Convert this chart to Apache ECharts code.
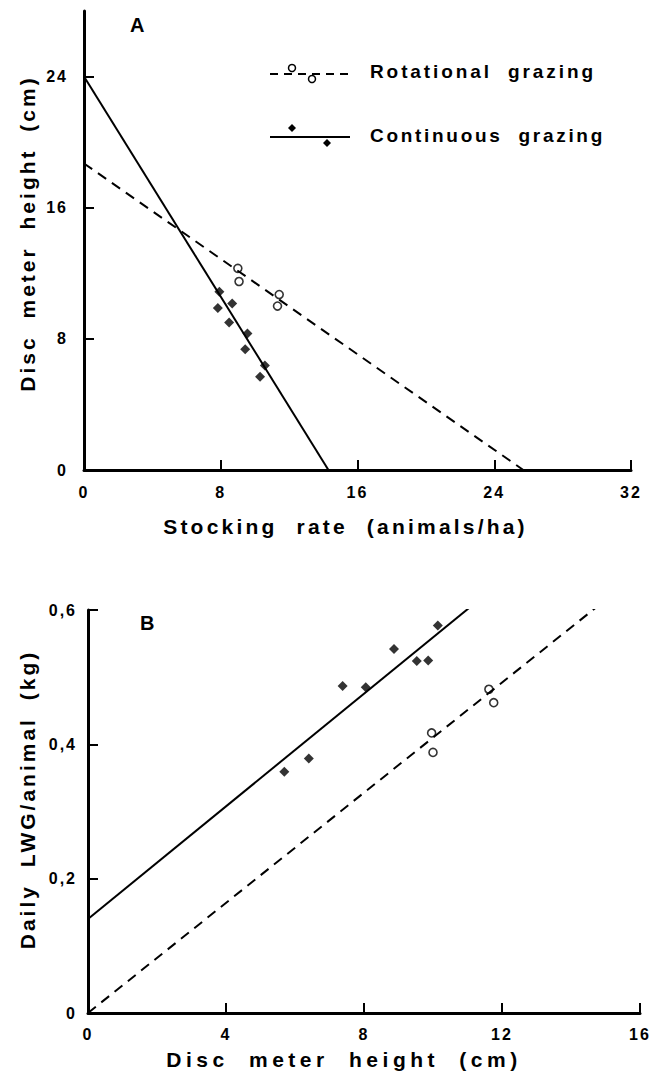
<!DOCTYPE html>
<html><head><meta charset="utf-8">
<script src="https://cdn.jsdelivr.net/npm/echarts@6/dist/echarts.min.js"></script>
<style>
html,body{margin:0;padding:0;background:#fff;}
#c{width:668px;height:1075px;}
</style></head><body><div id="c"></div>
<script>
// ---- Panel A: disc meter height vs stocking rate ----
const aRotX = [9.0, 9.07, 11.42, 11.32];
const aRotY = [12.3, 11.5, 10.7, 10.0];
const aContX = [7.92, 7.83, 8.67, 8.49, 9.56, 9.43, 10.58, 10.30];
const aContY = [10.87, 9.88, 10.16, 9.0, 8.33, 7.36, 6.38, 5.69];
const aRotLineX = [0, 25.7];
const aRotLineY = [18.7, 0];
const aContLineX = [0, 14.3];
const aContLineY = [24, 0];
const aXTicks = [0, 8, 16, 24, 32];
const aYTicks = [0, 8, 16, 24];

// ---- Panel B: daily LWG vs disc meter height ----
const bContX = [5.69, 6.40, 7.38, 8.05, 8.87, 9.53, 9.86, 10.14];
const bContY = [0.359, 0.379, 0.487, 0.485, 0.542, 0.524, 0.525, 0.577];
const bRotX = [9.96, 10.0, 11.62, 11.76];
const bRotY = [0.417, 0.388, 0.482, 0.462];
const bContLineX = [0, 11.45];
const bContLineY = [0.14, 0.62];
const bRotLineX = [0, 15.0];
const bRotLineY = [0, 0.615];
const bXTicks = [0, 4, 8, 12, 16];
const bYTicks = [0, 0.2, 0.4, 0.6];

const seriesNames = ['Rotational grazing', 'Continuous grazing'];
const panelLabels = ['A', 'B'];
const axisNames = {
  aX: 'Stocking rate (animals/ha)',
  aY: 'Disc meter height (cm)',
  bX: 'Disc meter height (cm)',
  bY: 'Daily LWG/animal (kg)'
};

const zip = (xs, ys) => xs.map((x, i) => [x, ys[i]]);
const FONT = '"Liberation Sans", Arial, Helvetica, sans-serif';
const black = '#000';
const NAME_SIZE = 21;

function tick(values) {
  return { show: true, inside: true, length: 10, lineStyle: { color: black, width: 2 }, customValues: values };
}
function label(values, margin, fmt) {
  const l = { color: black, fontWeight: 'bold', fontSize: 16, fontFamily: FONT, margin: margin, customValues: values };
  if (fmt) l.formatter = fmt;
  return l;
}
function axisBase(extra) {
  return Object.assign({
    type: 'value',
    axisLine: { show: true, onZero: false, lineStyle: { color: black, width: 3 } },
    splitLine: { show: false },
    nameLocation: 'middle'
  }, extra);
}
function nameStyle(padding) {
  return { color: black, fontWeight: 'bold', fontSize: NAME_SIZE, fontFamily: FONT, padding: padding };
}

const commaFmt = v => String(Math.round(v * 10) / 10).replace('.', ',');

const chart = echarts.init(document.getElementById('c'), null, { renderer: 'svg' });

const option = {
  backgroundColor: '#fff',
  animation: false,
  grid: [
    { left: 84, top: 11, width: 547, height: 459 },
    { left: 88, top: 610, width: 552, height: 403 }
  ],
  xAxis: [
    axisBase({ gridIndex: 0, min: 0, max: 32, interval: 8,
      name: axisNames.aX, nameGap: 46, nameTextStyle: nameStyle([0, 24, 0, 0]),
      axisLabel: label(aXTicks, 14), axisTick: tick(aXTicks.slice(1)) }),
    axisBase({ gridIndex: 1, min: 0, max: 16, interval: 4,
      name: axisNames.bX, nameGap: 36, nameTextStyle: nameStyle([0, 40, 0, 0]),
      axisLabel: label(bXTicks, 13), axisTick: tick(bXTicks.slice(1)) })
  ],
  yAxis: [
    axisBase({ gridIndex: 0, min: 0, max: 28, interval: 4,
      name: axisNames.aY, nameRotate: 90, nameGap: 46, nameTextStyle: nameStyle([0, 0, 0, 14]),
      axisLabel: label(aYTicks, 16), axisTick: tick(aYTicks.slice(1)) }),
    axisBase({ gridIndex: 1, min: 0, max: 0.6, interval: 0.2,
      name: axisNames.bY, nameRotate: 90, nameGap: 50, nameTextStyle: nameStyle([0, 0, 0, 24]),
      axisLabel: label(bYTicks, 11, commaFmt), axisTick: tick(bYTicks.slice(1)) })
  ],
  series: [
    { name: seriesNames[0], type: 'line', xAxisIndex: 0, yAxisIndex: 0, data: zip(aRotLineX, aRotLineY),
      symbol: 'none', lineStyle: { color: black, width: 2, type: [10, 7] }, silent: true },
    { name: seriesNames[1], type: 'line', xAxisIndex: 0, yAxisIndex: 0, data: zip(aContLineX, aContLineY),
      symbol: 'none', lineStyle: { color: black, width: 2 }, silent: true },
    { name: seriesNames[0], type: 'scatter', xAxisIndex: 0, yAxisIndex: 0, data: zip(aRotX, aRotY),
      symbol: 'circle', symbolSize: 8, itemStyle: { color: '#fff', borderColor: black, borderWidth: 1.6 } },
    { name: seriesNames[1], type: 'scatter', xAxisIndex: 0, yAxisIndex: 0, data: zip(aContX, aContY),
      symbol: 'diamond', symbolSize: [10, 10], itemStyle: { color: black } },

    { name: seriesNames[0], type: 'line', xAxisIndex: 1, yAxisIndex: 1, data: zip(bRotLineX, bRotLineY),
      symbol: 'none', lineStyle: { color: black, width: 2, type: [10, 7] }, silent: true },
    { name: seriesNames[1], type: 'line', xAxisIndex: 1, yAxisIndex: 1, data: zip(bContLineX, bContLineY),
      symbol: 'none', lineStyle: { color: black, width: 2 }, silent: true },
    { name: seriesNames[0], type: 'scatter', xAxisIndex: 1, yAxisIndex: 1, data: zip(bRotX, bRotY),
      symbol: 'circle', symbolSize: 8, itemStyle: { color: '#fff', borderColor: black, borderWidth: 1.6 } },
    { name: seriesNames[1], type: 'scatter', xAxisIndex: 1, yAxisIndex: 1, data: zip(bContX, bContY),
      symbol: 'diamond', symbolSize: [10, 10], itemStyle: { color: black } }
  ],
  graphic: [
    { type: 'text', left: 130, top: 15, style: { text: panelLabels[0], font: 'bold 20px ' + FONT, fill: black } },
    { type: 'text', left: 140, top: 613, style: { text: panelLabels[1], font: 'bold 20px ' + FONT, fill: black } },
    // legend: rotational
    { type: 'line', shape: { x1: 270, y1: 74, x2: 350, y2: 74 }, style: { stroke: black, lineWidth: 2, lineDash: [8, 6] } },
    { type: 'circle', shape: { cx: 292, cy: 68, r: 3.5 }, style: { fill: '#fff', stroke: black, lineWidth: 1.5 } },
    { type: 'circle', shape: { cx: 312, cy: 79, r: 3.5 }, style: { fill: '#fff', stroke: black, lineWidth: 1.5 } },
    { type: 'text', left: 370, top: 62, style: { text: seriesNames[0], font: 'bold 19px ' + FONT, fill: black } },
    // legend: continuous
    { type: 'line', shape: { x1: 270, y1: 137, x2: 350, y2: 137 }, style: { stroke: black, lineWidth: 2 } },
    { type: 'polygon', shape: { points: [[292, 124], [296, 128], [292, 132], [288, 128]] }, style: { fill: black } },
    { type: 'polygon', shape: { points: [[327, 139], [331, 143], [327, 147], [323, 143]] }, style: { fill: black } },
    { type: 'text', left: 370, top: 126, style: { text: seriesNames[1], font: 'bold 19px ' + FONT, fill: black } }
  ]
};
chart.setOption(option);

// letter/word spacing to mimic the widely tracked lettering of the original figure
// [text, letter-spacing, word-spacing, orientation]
const spacing = [
  [axisNames.aX, 3.2, 10, 'h'],
  [axisNames.bX, 4.5, 10, 'h'],
  [axisNames.aY, 3.0, 8, 'v'],
  [axisNames.bY, 3.0, 8, 'v'],
  [seriesNames[0], 2.9, 8, 'h'],
  [seriesNames[1], 2.7, 8, 'h']
];
function applySpacing() {
  document.querySelectorAll('#c svg text').forEach(t => {
    const s = t.textContent;
    let ls = panelLabels.includes(s) ? 0 : 2, ws = 0;
    const r = t.getBoundingClientRect();
    const orient = r.height > r.width ? 'v' : 'h';
    const m = spacing.find(e => e[0] === s && e[3] === orient);
    if (m) { ls = m[1]; ws = m[2]; }
    t.setAttribute('letter-spacing', ls + 'px');
    t.setAttribute('word-spacing', ws + 'px');
  });
}
applySpacing();
chart.on('finished', applySpacing);
</script></body></html>
